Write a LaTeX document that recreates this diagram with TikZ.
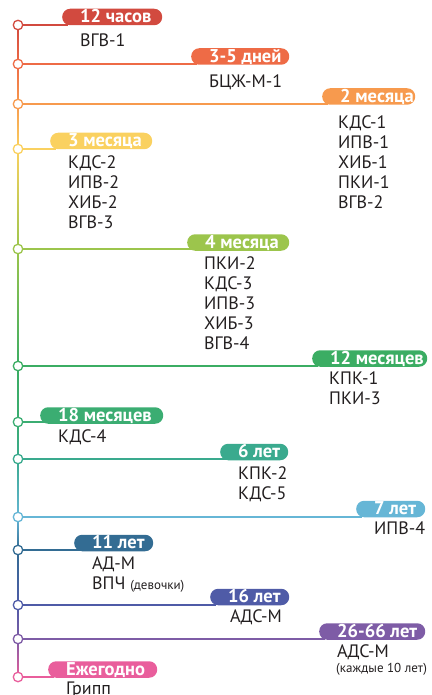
\documentclass[tikz,border=0pt]{standalone}
\usepackage{fontspec}
\setmainfont{PT Sans}
\usetikzlibrary{calc,backgrounds}
\definecolor{cA}{HTML}{D24A3F}
\definecolor{cB}{HTML}{EE6B46}
\definecolor{cC}{HTML}{F79A4E}
\definecolor{cD}{HTML}{FAD160}
\definecolor{cE}{HTML}{9CC54C}
\definecolor{cF}{HTML}{3BAD63}
\definecolor{cG}{HTML}{3BAD72}
\definecolor{cH}{HTML}{3AAA8E}
\definecolor{cI}{HTML}{66B6D6}
\definecolor{cJ}{HTML}{336C93}
\definecolor{cK}{HTML}{4F5BA7}
\definecolor{cL}{HTML}{7E5CA6}
\definecolor{cM}{HTML}{E95E9C}
\definecolor{ink}{HTML}{231F20}
\begin{document}
\begin{tikzpicture}[x=1pt,y=-1pt,
 dot/.style={circle, draw=#1, fill=white, line width=1.3pt, minimum size=9.5pt, inner sep=0pt},
 pill/.style={rounded corners=8pt, fill=#1, minimum height=16.5pt, inner xsep=0pt, inner ysep=0pt,
   text height=13pt, text depth=1.5pt, text=white, font=\fontsize{18.5}{20}\bfseries\selectfont, anchor=west},
 txt/.style={font=\fontsize{18}{20}\selectfont, align=left, inner sep=0pt, anchor=base west, text=ink},
 smalltxt/.style={font=\fontsize{13}{14}\selectfont, inner sep=0pt, anchor=base west, text=ink},
 link/.style={line width=1.5pt, draw=#1}]
\useasboundingbox (0,0) rectangle (431,695);
\newcommand{\pilltext}[2]{\makebox[#1pt][l]{\hspace{18pt}#2}}
% timeline dots
\node[dot=cA] (c1) at (18,25) {};
\node[dot=cB] (c2) at (18,64) {};
\node[dot=cC] (c3) at (18,104) {};
\node[dot=cD] (c4) at (18,149) {};
\node[dot=cE] (c5) at (18,249) {};
\node[dot=cF] (c6) at (18,366) {};
\node[dot=cG] (c7) at (18,422) {};
\node[dot=cH] (c8) at (18,459) {};
\node[dot=cI] (c9) at (18,517) {};
\node[dot=cJ] (c10) at (18,550) {};
\node[dot=cK] (c11) at (18,605) {};
\node[dot=cL] (c12) at (18,639) {};
\node[dot=cM] (c13) at (18,677) {};
% pills
\node[pill=cA] (p1) at (62,17) {\pilltext{100}{12 часов}};
\node[pill=cB] (p2) at (191,56.5) {\pilltext{98}{3-5 дней}};
\node[pill=cC] (p3) at (322,96.5) {\pilltext{93}{2 месяца}};
\node[pill=cD] (p4) at (50,141) {\pilltext{102}{3 месяца}};
\node[pill=cE] (p5) at (187,242.5) {\pilltext{102}{4 месяца}};
\node[pill=cF] (p6) at (312,358.5) {\pilltext{115}{12 месяцев}};
\node[pill=cG] (p7) at (40,415.5) {\pilltext{123}{18 месяцев}};
\node[pill=cH] (p8) at (220,452) {\pilltext{68}{6 лет}};
\node[pill=cI] (p9) at (356,509) {\pilltext{69}{7 лет}};
\node[pill=cJ] (p10) at (74,543) {\pilltext{79}{11 лет}};
\node[pill=cK] (p11) at (210,597) {\pilltext{79}{16 лет}};
\node[pill=cL] (p12) at (319,631.5) {\pilltext{106}{26-66 лет}};
\node[pill=cM] (p13) at (48,669.5) {\pilltext{109}{Ежегодно}};
% texts (multi-line nodes anchored at the baseline of their last line)
\node[txt] (t1) at (80,47) {ВГВ-1};
\node[txt] (t2) at (209,88) {БЦЖ-М-1};
\node[txt] (t3) at (338,208) {КДС-1\\ИПВ-1\\ХИБ-1\\ПКИ-1\\ВГВ-2};
\node[txt] (t4) at (68,228) {КДС-2\\ИПВ-2\\ХИБ-2\\ВГВ-3};
\node[txt] (t5) at (204,349) {ПКИ-2\\КДС-3\\ИПВ-3\\ХИБ-3\\ВГВ-4};
\node[txt] (t6) at (329,404) {КПК-1\\ПКИ-3};
\node[txt] (t7) at (58,442) {КДС-4};
\node[txt] (t8) at (238,499) {КПК-2\\КДС-5};
\node[txt] (t9) at (374,534) {ИПВ-4};
\node[txt] (t10) at (92,589) {АД-М\\ВПЧ {\fontsize{13}{14}\selectfont(девочки)}};
\node[txt] (t11) at (230,622) {АДС-М};
\node[txt] (t12) at (337,657) {АДС-М};
\node[smalltxt] (t12b) at (336,672) {(каждые 10 лет)};
\node[txt] (t13) at (66,694) {Грипп};
% spine and links (behind)
\begin{scope}[on background layer]
\foreach \a/\b/\ca/\cb in {c1/c2/cA/cB, c2/c3/cB/cC, c3/c4/cC/cD, c4/c5/cD/cE, c5/c6/cE/cF, c6/c7/cF/cG, c7/c8/cG/cH, c8/c9/cH/cI, c9/c10/cI/cJ, c10/c11/cJ/cK, c11/c12/cK/cL, c12/c13/cL/cM}{
  \shade[top color=\ca, bottom color=\cb] ($(\a.center)+(-0.75,0)$) rectangle ($(\b.center)+(0.75,0)$);
}
\foreach \i/\c in {1/cA,2/cB,3/cC,4/cD,5/cE,6/cF,7/cG,8/cH,9/cI,10/cJ,11/cK,12/cL,13/cM}{
  \draw[link=\c] (c\i.center) -- ($(c\i.center -| p\i.west)+(6,0)$);
}
\end{scope}
\end{tikzpicture}
\end{document}
